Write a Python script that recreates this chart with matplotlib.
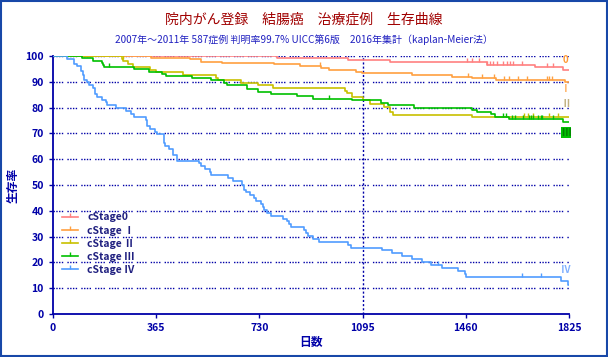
import numpy as np
import matplotlib
matplotlib.use("Agg")
from matplotlib import pyplot as plt
from matplotlib.lines import Line2D
from matplotlib.patches import Rectangle

plt.rcParams['font.family'] = ['Noto Sans CJK JP', 'DejaVu Sans']

# survival steps (days, %)
stage0_t = [0, 793, 1045, 1193, 1534, 1705, 1805, 1825]
stage0_s = [100, 99.2, 98.3, 97.5, 96.5, 95.6, 94.6, 94.6]
stage0_c = [3, 1463, 1481, 1508, 1534, 1545, 1556, 1569, 1590, 1607, 1615, 1626, 1658, 1748, 1767]

stage1_t = [0, 347, 486, 525, 599, 783, 875, 947, 977, 1072, 1092, 1271, 1410, 1483, 1567, 1811, 1825]
stage1_s = [100, 99.2, 98.7, 97.8, 97.4, 96.8, 96.0, 95.2, 94.4, 93.7, 93.3, 92.5, 91.7, 91.3, 90.6, 89.8, 89.8]
stage1_c = [944, 1469, 1516, 1561, 1595, 1614, 1643, 1675, 1746, 1754, 1764]

stage2_t = [0, 243, 249, 266, 282, 343, 364, 459, 577, 585, 664, 724, 779, 1033, 1039, 1059,
            1097, 1121, 1171, 1192, 1204, 1483, 1825]
stage2_s = [100, 98.7, 97.9, 96.9, 95.6, 94.6, 93.7, 92.5, 91.6, 90.6, 89.4, 88.6, 87.5, 86.6, 85.5, 84.2,
            83.0, 81.4, 80.2, 78.2, 77.0, 76.2, 76.2]
stage2_c = [240, 246, 1664, 1679, 1697, 1755, 1787]

stage3_t = [0, 101, 143, 172, 176, 182, 288, 341, 387, 400, 493, 558, 606, 614, 685, 724, 770, 862, 921,
            1056, 1159, 1184, 1278, 1483, 1499, 1548, 1563, 1614, 1805, 1825]
stage3_s = [100, 99.1, 98.2, 97.2, 96.4, 95.6, 94.8, 93.7, 92.9, 92.2, 91.4, 90.6, 89.7, 88.6, 87.1, 85.9, 85.3, 84.4, 83.5,
            82.8, 81.7, 80.9, 80.0, 79.1, 78.2, 77.4, 76.5, 75.5, 74.4, 74.4]
stage3_c = [199, 977, 1590, 1602, 1622, 1634, 1661, 1685, 1692, 1699, 1717, 1725, 1731, 1770]

stage4_t = [0, 51, 74, 84, 98, 105, 111, 119, 127, 141, 149, 157, 174, 187, 192, 223, 259, 275, 286, 330, 334,
            343, 362, 368, 391, 394, 397, 409, 426, 440, 518, 525, 539, 555, 560, 620, 638, 670, 677, 681, 698,
            712, 719, 737, 742, 747, 758, 771, 815, 826, 835, 841, 889, 896, 902, 920, 942, 1043, 1055, 1162,
            1198, 1235, 1269, 1306, 1338, 1377, 1434, 1458, 1462, 1798, 1822, 1825]
stage4_s = [100, 98.7, 96.9, 96.2, 94.2, 92.6, 90.7, 89.8, 88.6, 87.5, 85.4, 84.0, 82.8, 82.0, 81.1, 79.7, 78.6, 77.4, 76.2, 75.1, 72.8,
            71.6, 70.5, 69.6, 68.3, 66.2, 65.1, 63.8, 61.6, 59.3, 58.4, 57.4, 56.2, 54.9, 53.9, 52.6, 51.4, 50.1, 48.1, 47.2, 46.1,
            44.8, 43.8, 42.5, 41.3, 40.2, 39.1, 38.0, 36.8, 35.9, 34.9, 33.6, 32.6, 31.3, 30.1, 29.0, 27.8, 26.7, 25.4, 24.7,
            23.5, 22.5, 21.2, 20.0, 18.9, 17.7, 16.5, 15.4, 14.2, 12.7, 11.1, 11.1]
stage4_c = [1363, 1660, 1727]

labels = ["cStage0", "cStage Ⅰ", "cStage Ⅱ", "cStage Ⅲ", "cStage Ⅳ"]
colors = ["#FF8080", "#FFA040", "#C8C000", "#00C000", "#509CFF"]
end_marks = ["0", "Ⅰ", "Ⅱ", "Ⅲ", "Ⅳ"]
end_mark_y = [98.4, 87.2, 81.4, 70.2, 17.1]
xticks = [0, 365, 730, 1095, 1460, 1825]

series = [(stage0_t, stage0_s, stage0_c), (stage1_t, stage1_s, stage1_c), (stage2_t, stage2_s, stage2_c),
          (stage3_t, stage3_s, stage3_c), (stage4_t, stage4_s, stage4_c)]

navy = "#0000A8"
fig = plt.figure(figsize=(6.08, 3.57), dpi=100)
ax = fig.add_axes([0.0872, 0.1204, 0.8487, 0.7227])

for y in range(10, 101, 10):
    ax.axhline(y, color=navy, lw=1.0, ls=(0, (1, 1, 1, 1, 1, 1, 1, 3)), zorder=1)
ax.axvline(1095, color=navy, lw=1.0, ls=(0, (1.5, 1.5)), zorder=1)

for (t, s, c), col in zip(series, colors):
    ax.step(t, s, where="post", color=col, lw=1.2, zorder=3)
    idx = np.searchsorted(t, c, side="right") - 1
    ax.plot(c, np.asarray(s)[idx], ls="none", marker=2, ms=2.8, mew=1.0, color=col, zorder=3)

handles = [Line2D([], [], color=col, lw=1.2, marker=2, ms=3, mew=1.0) for col in colors]
leg = ax.legend(handles, labels, loc="upper left", bbox_to_anchor=(0.0, 0.43), frameon=False,
                handlelength=1.5, handletextpad=0.9, labelspacing=0.3, numpoints=1,
                prop={"size": 7.5, "weight": "bold"})
for txt in leg.get_texts():
    txt.set_color("#202080")

mark_colors = ["#FF9933", "#FFB060", "#C0B080", "#008000", "#80B0FF"]
for m, y, col in zip(end_marks, end_mark_y, mark_colors):
    kw = {}
    if m == "Ⅲ":
        kw["bbox"] = dict(boxstyle="square,pad=0.05", fc="#00C000", ec="none")
    ax.text(1814, y, m, color=col, fontsize=7, fontweight="bold", ha="center", va="center", zorder=4, **kw)

ax.set_xlim(0, 1825)
ax.set_ylim(0, 100)
ax.set_xticks(xticks)
ax.set_yticks(range(0, 101, 10))
ax.tick_params(colors=navy, labelsize=7.5, length=3, width=1)
for lab in ax.get_xticklabels() + ax.get_yticklabels():
    lab.set_fontweight("bold")
for side in ["top", "right"]:
    ax.spines[side].set_visible(False)
for side in ["left", "bottom"]:
    ax.spines[side].set_color(navy)
    ax.spines[side].set_linewidth(1.3)

ax.set_xlabel("日数", color=navy, fontsize=8.5, fontweight="bold", labelpad=2)
ax.xaxis.set_label_coords(0.5, -0.085)
ax.set_ylabel("生存率", color=navy, fontsize=8.5, fontweight="bold")
ax.yaxis.set_label_coords(-0.065, 0.5)

fig.text(0.5, 0.944, "院内がん登録　結腸癌　治療症例　生存曲線", color="#A00000", fontsize=10, ha="center", va="center")
fig.text(0.5, 0.888, "2007年～2011年 587症例 判明率99.7% UICC第6版　2016年集計（kaplan-Meier法）",
         color="#2020C0", fontsize=7.2, ha="center", va="center")

fig.patches.append(Rectangle((0.001, 0.002), 0.997, 0.996, transform=fig.transFigure, fill=False,
                             edgecolor="#1848A8", lw=1.5))

fig.savefig("out.png", dpi=100)
